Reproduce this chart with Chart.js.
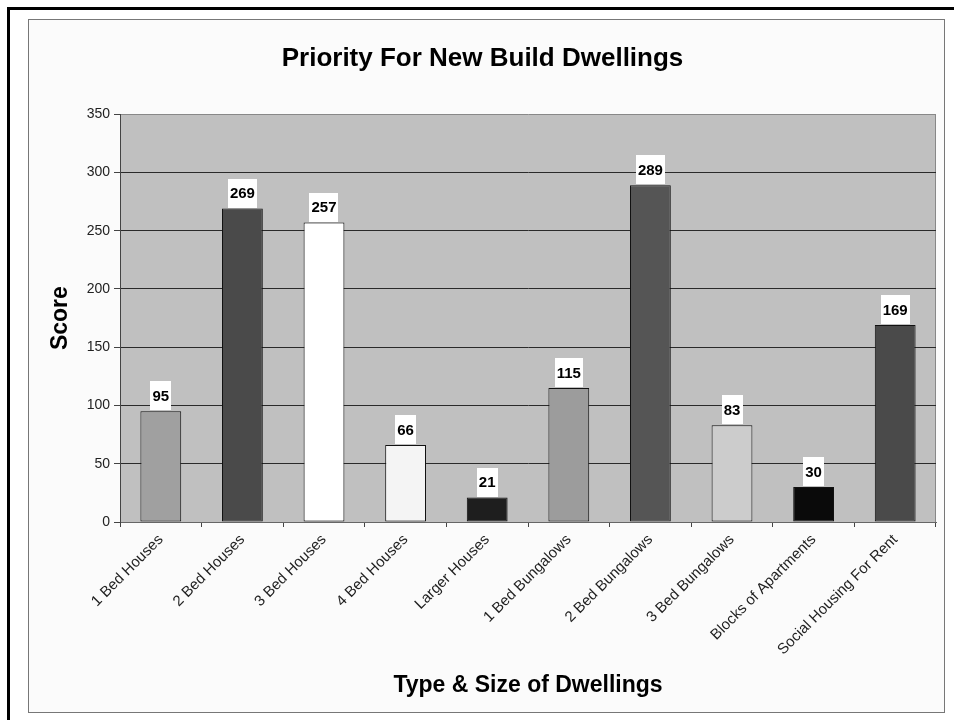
<!DOCTYPE html>
<html>
<head>
<meta charset="utf-8">
<script src="https://cdn.jsdelivr.net/npm/chart.js@4"></script>
<style>
  body { margin: 0; background: #fff; width: 954px; height: 720px; overflow: hidden; position: relative; }
  #frame { position: absolute; left: 7px; top: 7px; width: 960px; height: 720px; border-left: 3px solid #000; border-top: 3px solid #000; }
  #box { position: absolute; left: 28px; top: 19px; width: 915px; height: 692px; border: 1px solid #777; background: #fbfbfb; }
  canvas { display: block; }
</style>
</head>
<body>
<div id="frame"></div>
<div id="box"><canvas id="myChart" width="915" height="692"></canvas></div>
<script>
const categories = ["1 Bed Houses", "2 Bed Houses", "3 Bed Houses", "4 Bed Houses", "Larger Houses",
  "1 Bed Bungalows", "2 Bed Bungalows", "3 Bed Bungalows", "Blocks of Apartments", "Social Housing For Rent"];
const scores = [95, 269, 257, 66, 21, 115, 289, 83, 30, 169];
const barColors = ['#a0a0a0', '#4a4a4a', '#ffffff', '#f4f4f4', '#1e1e1e',
  '#9c9c9c', '#555555', '#cccccc', '#0a0a0a', '#4a4a4a'];

// grey plot background + right border
const plotBackground = {
    id: 'plotBackground',
    beforeDraw(chart) {
        const {ctx, chartArea: a} = chart;
        ctx.save();
        ctx.fillStyle = '#c0c0c0';
        ctx.fillRect(a.left, a.top, a.right - a.left, a.bottom - a.top);
        ctx.strokeStyle = '#888';
        ctx.lineWidth = 1;
        ctx.beginPath();
        ctx.moveTo(a.right - 0.5, a.top);
        ctx.lineTo(a.right - 0.5, a.bottom);
        ctx.stroke();
        ctx.restore();
    }
};

// white boxed value labels above bars
const valueLabels = {
    id: 'valueLabels',
    afterDatasetsDraw(chart) {
        const ctx = chart.ctx;
        const meta = chart.getDatasetMeta(0);
        ctx.save();
        ctx.font = 'bold 15px "Liberation Sans", Arial, sans-serif';
        ctx.textAlign = 'center';
        ctx.textBaseline = 'middle';
        meta.data.forEach((bar, i) => {
            const txt = String(scores[i]);
            const w = ctx.measureText(txt).width + 4;
            const h = 29;
            const top = bar.y - 1 - h;
            ctx.fillStyle = '#ffffff';
            ctx.fillRect(Math.round(bar.x - w / 2), Math.round(top), Math.round(w), h);
            ctx.fillStyle = '#000';
            ctx.fillText(txt, bar.x, top + h / 2 + 1);
        });
        ctx.restore();
    }
};

const ctx = document.getElementById('myChart').getContext('2d');
const myChart = new Chart(ctx, {
    type: 'bar',
    data: {
        labels: categories,
        datasets: [{
            label: 'Score',
            data: scores,
            backgroundColor: barColors,
            borderColor: '#111',
            borderWidth: 1,
            borderSkipped: false,
            barPercentage: 0.5,
            categoryPercentage: 1.0
        }]
    },
    options: {
        responsive: false,
        animation: false,
        layout: { padding: { left: 0, right: 8, top: 0, bottom: 0 } },
        plugins: {
            legend: { display: false },
            tooltip: { enabled: false },
            title: {
                display: true,
                text: 'Priority For New Build Dwellings',
                color: '#000',
                font: { family: '"Liberation Sans", Arial, sans-serif', size: 26, weight: 'bold' },
                padding: { top: 23, bottom: 40 }
            }
        },
        scales: {
            x: {
                afterFit(scale) { scale.height = 190; },
                grid: {
                    offset: true,
                    drawOnChartArea: false,
                    color: '#444',
                    tickColor: '#444',
                    tickLength: 5
                },
                border: { color: '#666' },
                ticks: {
                    autoSkip: false,
                    minRotation: 45,
                    maxRotation: 45,
                    color: '#222',
                    padding: 4,
                    font: { family: '"Liberation Sans", Arial, sans-serif', size: 15 }
                },
                title: {
                    display: true,
                    text: 'Type & Size of Dwellings',
                    color: '#000',
                    font: { family: '"Liberation Sans", Arial, sans-serif', size: 23, weight: 'bold' },
                    padding: { top: 0, bottom: 13 }
                }
            },
            y: {
                afterFit(scale) { scale.width = 91; },
                min: 0,
                max: 350,
                ticks: {
                    stepSize: 50,
                    color: '#222',
                    padding: 4,
                    font: { family: '"Liberation Sans", Arial, sans-serif', size: 14 }
                },
                grid: {
                    color: (c) => c.tick && c.tick.value === 350 ? '#888' : '#2a2a2a',
                    tickColor: '#444',
                    tickLength: 6
                },
                border: { color: '#444' },
                title: {
                    display: true,
                    text: 'Score',
                    color: '#000',
                    font: { family: '"Liberation Sans", Arial, sans-serif', size: 23, weight: 'bold' },
                    padding: { top: 18, bottom: 0 }
                }
            }
        }
    },
    plugins: [plotBackground, valueLabels]
});
</script>
</body>
</html>
